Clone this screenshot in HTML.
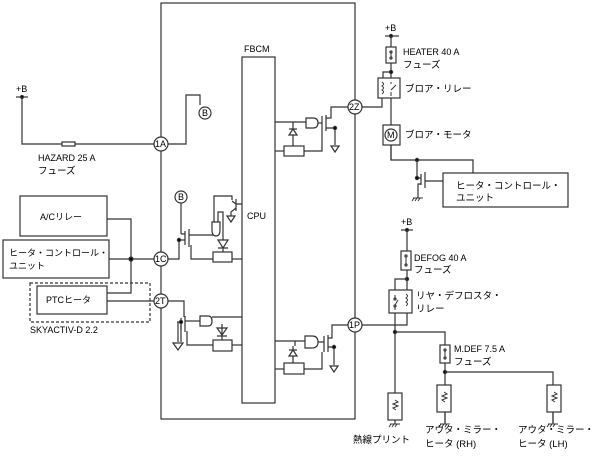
<!DOCTYPE html>
<html><head><meta charset="utf-8"><style>
html,body{margin:0;padding:0;background:#fff;}
svg{display:block;}
text{font-family:"Liberation Sans","Noto Sans CJK JP",sans-serif;font-size:9px;fill:#000;}
.j{font-size:9.5px;}
</style></head><body>
<svg width="607" height="457" viewBox="0 0 607 457" xmlns="http://www.w3.org/2000/svg" fill="none" stroke="#333" stroke-width="1.2">
<rect x="161" y="3" width="194" height="416"/>
<rect x="242" y="57" width="33" height="346"/>
<text x="244" y="52" stroke="none">FBCM</text>
<text x="247" y="219" stroke="none" font-size="10">CPU</text>

<line x1="16" y1="97" x2="28" y2="97"/>
<circle cx="22" cy="97" r="1.5" fill="#000"/>
<text x="16" y="92" stroke="none">+B</text>
<polyline points="22,97 22,144 154,144"/>
<rect x="62" y="142" width="13" height="4" fill="#fff"/>
<text x="38" y="161" stroke="none">HAZARD 25 A</text>
<text x="38" y="174" stroke="none" class="j">フューズ</text>
<polyline points="168,144 186,144 186,95 200,95 200,105"/>
<circle cx="161" cy="144" r="7" fill="#fff"/><text x="155" y="147" stroke="none" font-size="8">1A</text>
<circle cx="205" cy="113" r="6" fill="#fff"/><text x="202" y="116" stroke="none" font-size="8">B</text>

<rect x="20" y="196" width="87" height="40"/>
<text x="40" y="220" stroke="none">A/Cリレー</text>
<rect x="3" y="240" width="106" height="38"/>
<text x="9" y="256" stroke="none" font-size="8.8">ヒータ・コントロール・</text>
<text x="9" y="269" stroke="none" font-size="8.8">ユニット</text>
<rect x="30" y="283" width="120" height="39" stroke-dasharray="3,2"/>
<rect x="37" y="286" width="70" height="28"/>
<text x="46" y="303" stroke="none">PTCヒータ</text>
<text x="30" y="333" stroke="none">SKYACTIV-D 2.2</text>
<polyline points="107,219 131,219 131,293 107,293"/>
<line x1="109" y1="259" x2="154" y2="259"/>
<circle cx="131" cy="259" r="2" fill="#000"/>
<line x1="107" y1="301" x2="154" y2="301"/>

<line x1="181" y1="203" x2="181" y2="234"/>
<circle cx="181" cy="197" r="6" fill="#fff"/><text x="178" y="200" stroke="none" font-size="8">B</text>
<polyline points="168,259 179,259 179,240 185,240"/>
<circle cx="179" cy="240" r="1.6" fill="#000"/>
<line x1="185" y1="231" x2="185" y2="245"/>
<line x1="189" y1="229" x2="189" y2="247"/>
<polyline points="181,234 185,234"/>
<polyline points="191,245 191,259 213,259"/>
<line x1="189" y1="235" x2="213" y2="235"/>
<path d="M212,222 L212,230 Q212,236 216,236 Q220,236 220,230 L220,222 Z" fill="#fff"/>
<polyline points="214,222 214,196 232,196 232,200"/>
<polyline points="218,222 218,212 223,212 223,240"/>
<path d="M218,240 L228,240 L223,248 Z M218,248 L228,248" fill="#fff"/>
<line x1="223" y1="248" x2="223" y2="252"/>
<rect x="213" y="252" width="19" height="10"/>
<line x1="232" y1="259" x2="242" y2="259"/>
<line x1="236" y1="199" x2="236" y2="211"/>
<polyline points="232,201 236,204 242,204"/>
<polyline points="236,208 231,212 231,216"/>
<path d="M227,216 L235,216 L231,222 Z" fill="#fff"/>

<circle cx="161" cy="259" r="7" fill="#fff"/><text x="155" y="262" stroke="none" font-size="8">1C</text>

<polyline points="168,301 184,301 184,317"/>
<line x1="181" y1="318" x2="181" y2="330"/>
<line x1="185" y1="316" x2="185" y2="332"/>
<polyline points="177,322 181,322"/>
<polyline points="181,325 181,342"/>
<circle cx="181" cy="322" r="1.6" fill="#000"/>
<polyline points="178,322 178,342"/>
<path d="M173,343 L183,343 L178,350 Z" fill="#fff"/>
<polyline points="187,331 187,345 213,345"/>
<line x1="185" y1="321" x2="200" y2="321"/>
<path d="M200,316 L208,316 Q212,316 212,321 Q212,326 208,326 L200,326 Z" fill="#fff"/>
<line x1="212" y1="317" x2="242" y2="317"/>
<path d="M217,328 L227,328 L222,335 Z M217,336 L227,336" fill="#fff"/>
<line x1="222" y1="324" x2="222" y2="342"/>
<rect x="213" y="340" width="19" height="11" fill="#fff"/>
<line x1="232" y1="345" x2="242" y2="345"/>
<circle cx="161" cy="301" r="7" fill="#fff"/><text x="155" y="304" stroke="none" font-size="8">2T</text>

<line x1="275" y1="122" x2="306" y2="122"/>
<path d="M306,118 L313,118 Q318,118 318,123 Q318,128 313,128 L306,128 Z" fill="#fff"/>
<line x1="318" y1="123" x2="322" y2="123"/>
<line x1="322" y1="116" x2="322" y2="130"/>
<line x1="326" y1="115" x2="326" y2="131"/>
<polyline points="326,118 331,118 331,107 348,107"/>
<polyline points="326,128 335,128 335,145"/>
<circle cx="335" cy="128" r="1.6" fill="#000"/>
<path d="M331,146 L339,146 L335,152 Z" fill="#fff"/>
<line x1="293" y1="122" x2="293" y2="146"/>
<path d="M289,135 L297,135 L293,129 Z M289,129 L297,129" fill="#fff"/>
<rect x="284" y="146" width="20" height="10" fill="#fff"/>
<line x1="275" y1="151" x2="284" y2="151"/>
<polyline points="304,151 322,151 322,130"/>
<circle cx="355" cy="107" r="7" fill="#fff"/><text x="349" y="110" stroke="none" font-size="8">2Z</text>

<line x1="275" y1="341" x2="305" y2="341"/>
<polyline points="295,341 295,346"/>
<path d="M305,336 L312,336 Q318,336 318,342 Q318,348 312,348 L305,348 Z" fill="#fff"/>
<line x1="318" y1="342" x2="324" y2="342"/>
<line x1="324" y1="336" x2="324" y2="352"/>
<line x1="328" y1="335" x2="328" y2="352"/>
<polyline points="328,338 332,338 332,325 348,325"/>
<polyline points="328,347 334,347 334,365"/>
<circle cx="334" cy="347" r="1.6" fill="#000"/>
<path d="M330,366 L338,366 L334,372 Z" fill="#fff"/>
<polyline points="293,346 293,363"/>
<path d="M289,356 L297,356 L293,350 Z M289,350 L297,350" fill="#fff"/>
<rect x="284" y="363" width="20" height="11" fill="#fff"/>
<line x1="275" y1="369" x2="284" y2="369"/>
<polyline points="304,369 322,369 322,352"/>
<circle cx="355" cy="325" r="7" fill="#fff"/><text x="349" y="328" stroke="none" font-size="8">1P</text>

<line x1="385" y1="36" x2="399" y2="36"/>
<circle cx="391" cy="36" r="1.5" fill="#000"/>
<text x="385" y="31" stroke="none">+B</text>
<line x1="391" y1="36" x2="391" y2="160"/>
<rect x="386" y="47" width="10" height="16" fill="#fff"/>
<circle cx="391" cy="52" r="1"/><circle cx="391" cy="58" r="1"/>
<line x1="391" y1="53" x2="391" y2="57" stroke-width="1"/>
<text x="403" y="55" stroke="none">HEATER 40 A</text>
<text x="403" y="68" stroke="none" class="j">フューズ</text>
<circle cx="391" cy="72" r="1.6" fill="#000"/>
<polyline points="391,72 383,72 383,78"/>
<rect x="378" y="78" width="22" height="20" fill="#fff"/>
<path d="M382,82 q3,2 0,4 q3,2 0,4 q3,2 0,4" stroke-width="1"/>
<path d="M391,82 L391,84 M391,90 L396,85 M391,92 L391,96" stroke-width="1"/>
<text x="405" y="92" stroke="none" class="j">ブロア・リレー</text>
<polyline points="362,107 382,107 382,98"/>
<rect x="383" y="125" width="17" height="20" fill="#fff"/>
<circle cx="391" cy="135" r="6"/>
<text x="387" y="138" stroke="none" font-size="8">M</text>
<text x="405" y="138" stroke="none" class="j">ブロア・モータ</text>
<polyline points="391,145 391,160 473,160 473,173"/>
<circle cx="417" cy="160" r="1.6" fill="#000"/>
<polyline points="417,160 417,178 421,178"/>
<circle cx="417" cy="178" r="1.6" fill="#000"/>
<line x1="421" y1="174" x2="421" y2="185"/>
<line x1="425" y1="172" x2="425" y2="188"/>
<polyline points="421,184 418,184 418,198"/>
<polyline points="425,181 443,181"/>
<path d="M413,198 L423,198 M414,198 l-2,3 M417,198 l-2,3 M420,198 l-2,3" stroke-width="1"/>
<rect x="443" y="173" width="125" height="34" fill="#fff"/>
<text x="456" y="189" stroke="none" class="j">ヒータ・コントロール・</text>
<text x="456" y="201" stroke="none" class="j">ユニット</text>

<line x1="401" y1="230" x2="413" y2="230"/>
<circle cx="407" cy="230" r="1.5" fill="#000"/>
<text x="401" y="225" stroke="none">+B</text>
<line x1="407" y1="230" x2="407" y2="279"/>
<rect x="401" y="251" width="10" height="19" fill="#fff"/>
<circle cx="406" cy="256" r="1"/><circle cx="406" cy="265" r="1"/>
<line x1="406" y1="257" x2="406" y2="264" stroke-width="1"/>
<text x="414" y="261" stroke="none">DEFOG 40 A</text>
<text x="414" y="273" stroke="none" class="j">フューズ</text>
<circle cx="407" cy="279" r="1.6" fill="#000"/>
<polyline points="407,279 395,279 395,290"/>
<rect x="389" y="290" width="23" height="23" fill="#fff"/>
<path d="M395,295 L395,298 M395,305 L398,300 M395,307 L395,310" stroke-width="1"/>
<circle cx="395" cy="299" r="1"/><circle cx="395" cy="306" r="1"/>
<path d="M406,294 q3,2 0,4 q3,2 0,4 q3,2 0,4" stroke-width="1"/>
<line x1="407" y1="279" x2="407" y2="290"/>
<text x="416" y="299" stroke="none" class="j">リヤ・デフロスタ・</text>
<text x="416" y="312" stroke="none" class="j">リレー</text>
<polyline points="362,325 407,325 407,313"/>
<line x1="395" y1="313" x2="395" y2="420"/>
<circle cx="395" cy="332" r="1.6" fill="#000"/>
<polyline points="395,332 445,332 445,345"/>
<rect x="440" y="345" width="10" height="18" fill="#fff"/>
<circle cx="445" cy="350" r="1"/><circle cx="445" cy="358" r="1"/>
<line x1="445" y1="351" x2="445" y2="357" stroke-width="1"/>
<text x="454" y="352" stroke="none">M.DEF 7.5 A</text>
<text x="454" y="365" stroke="none" class="j">フューズ</text>
<line x1="445" y1="363" x2="445" y2="423"/>
<circle cx="445" cy="372" r="1.6" fill="#000"/>
<polyline points="445,372 553,372 553,423"/>
<rect x="388" y="393" width="14" height="27" fill="#fff"/>
<rect x="437" y="385" width="14" height="27" fill="#fff"/>
<rect x="547" y="385" width="14" height="27" fill="#fff"/>
<path d="M395,400 l3,2 l-5,2 l5,2 l-5,2 l3,2 M444,392 l3,2 l-5,2 l5,2 l-5,2 l3,2 M554,392 l3,2 l-5,2 l5,2 l-5,2 l3,2" stroke-width="1"/>
<path d="M390,424 L400,424 M391,424 l-2,3 M394,424 l-2,3 M397,424 l-2,3 M440,424 L450,424 M441,424 l-2,3 M444,424 l-2,3 M447,424 l-2,3 M548,424 L558,424 M549,424 l-2,3 M552,424 l-2,3 M555,424 l-2,3" stroke-width="1"/>
<line x1="395" y1="420" x2="395" y2="424"/>
<line x1="445" y1="412" x2="445" y2="424"/>
<line x1="553" y1="412" x2="553" y2="424"/>
<text x="353" y="443" stroke="none" class="j">熱線プリント</text>
<text x="425" y="433" stroke="none" class="j">アウタ・ミラー・</text>
<text x="425" y="447" stroke="none" class="j">ヒータ (RH)</text>
<text x="518" y="433" stroke="none" class="j">アウタ・ミラー・</text>
<text x="518" y="447" stroke="none" class="j">ヒータ (LH)</text>
</svg>
</body></html>
